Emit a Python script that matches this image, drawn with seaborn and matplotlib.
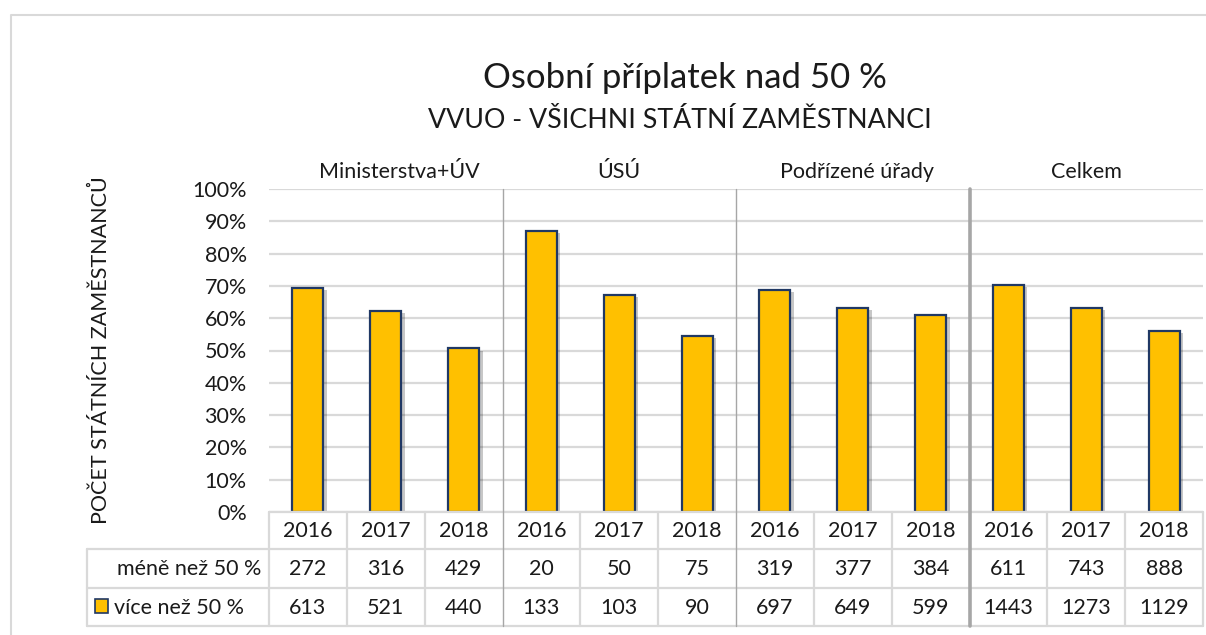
import numpy as np
import pandas as pd
import matplotlib
matplotlib.use('Agg')
import matplotlib.pyplot as plt
import seaborn as sns
from matplotlib import patheffects as pe, transforms
from matplotlib.lines import Line2D
from matplotlib.patches import Rectangle
from matplotlib.ticker import PercentFormatter

groups = ['Ministerstva+ÚV', 'ÚSÚ', 'Podřízené úřady', 'Celkem']
years = ['2016', '2017', '2018']
mene = [272, 316, 429, 20, 50, 75, 319, 377, 384, 611, 743, 888]
vice = [613, 521, 440, 133, 103, 90, 697, 649, 599, 1443, 1273, 1129]
row_labels = ['méně než 50 %', 'více než 50 %']

YELLOW = '#FFC000'
NAVY = '#203864'
GRID = '#d9d9d9'
TXT = '#1a1a1a'
FS = 15.5

sns.set_theme(style='white')
plt.rcParams['font.family'] = ['Lato', 'DejaVu Sans']

W, H = 1206, 635
fig = plt.figure(figsize=(W / 100, H / 100), dpi=100)

def fx(px):
    return px / W

def fy(py):
    return 1 - py / H

ax = fig.add_axes([fx(269), fy(512), fx(1203) - fx(269), fy(189) - fy(512)])

df = pd.DataFrame({'group': np.repeat(groups, len(years)), 'year': years * len(groups),
                   'mene': mene, 'vice': vice})
df['key'] = df['group'] + ' ' + df['year']
# 100 % stacked column: only the "více" share is filled
df['share'] = df['vice'] / (df['vice'] + df['mene'])

sns.barplot(data=df, x='key', y='share', color=YELLOW, edgecolor=NAVY, linewidth=1.6,
            width=0.4, saturation=1, ax=ax, zorder=3)
for bar in ax.patches:
    bar.set_path_effects([pe.SimplePatchShadow(offset=(2.5, -1.5), shadow_rgbFace='black', alpha=0.22),
                          pe.Normal()])

ax.set_xlim(-0.5, len(df) - 0.5)
ax.set_ylim(0, 1)
ax.set_yticks(np.arange(0, 1.01, 0.1))
ax.yaxis.set_major_formatter(PercentFormatter(1.0, decimals=0))
ax.tick_params(axis='y', length=0, pad=16, labelsize=FS, labelcolor=TXT)
ax.set_xticks([])
ax.set_xlabel('')
ax.set_ylabel('')
for s in ax.spines.values():
    s.set_visible(False)
ax.yaxis.grid(True, color=GRID, lw=1.6)
ax.set_axisbelow(True)

bt = transforms.blended_transform_factory(ax.transData, fig.transFigure)

# group labels (first one sits a bit right of centre, as in Excel)
label_shift = [0.18, 0, 0.05, 0]
for i, g in enumerate(groups):
    ax.text(i * 3 + 1 + label_shift[i], 1.053, g,
            transform=transforms.blended_transform_factory(ax.transData, ax.transAxes),
            ha='center', va='center', fontsize=FS, color=TXT)

# table grid
def hline(y, x0, x1):
    fig.add_artist(Line2D([fx(x0), fx(x1)], [fy(y), fy(y)], color=GRID, lw=1.6, transform=fig.transFigure))

hline(512, 269, 1203)
for y in [549, 588, 626]:
    hline(y, 87, 1203)
fig.add_artist(Line2D([fx(87), fx(87)], [fy(549), fy(626)], color=GRID, lw=1.6, transform=fig.transFigure))
for b in range(len(df) + 1):
    xb = b - 0.5
    if b in (3, 6):
        fig.add_artist(Line2D([xb, xb], [fy(189), fy(626)], color='#a6a6a6', lw=1.0, transform=bt, zorder=4))
    elif b == 9:
        fig.add_artist(Line2D([xb, xb], [fy(189), fy(626)], color='#a6a6a6', lw=2.6, transform=bt, zorder=4))
    else:
        fig.add_artist(Line2D([xb, xb], [fy(512), fy(626)], color=GRID, lw=1.6, transform=bt))

# table text
for i, r in df.iterrows():
    fig.text(i, fy(531), r['year'], transform=bt, ha='center', va='center', fontsize=FS, color=TXT)
    fig.text(i, fy(569), str(r['mene']), transform=bt, ha='center', va='center', fontsize=FS, color=TXT)
    fig.text(i, fy(608), str(r['vice']), transform=bt, ha='center', va='center', fontsize=FS, color=TXT)

fig.text(fx(261), fy(569), row_labels[0], ha='right', va='center', fontsize=FS, color=TXT)
fig.text(fx(114), fy(608), row_labels[1], ha='left', va='center', fontsize=FS, color=TXT)
fig.add_artist(Rectangle((fx(95), fy(613)), fx(13), fy(599) - fy(613), facecolor=YELLOW,
                         edgecolor=NAVY, lw=1.2, transform=fig.transFigure))

# titles
fig.text(fx(685), fy(78), 'Osobní příplatek nad 50 %', ha='center', va='center', fontsize=25, color=TXT)
fig.text(fx(680), fy(121), 'VVUO - VŠICHNI STÁTNÍ ZAMĚSTNANCI', ha='center', va='center', fontsize=19.3,
         color=TXT)
fig.text(fx(101), fy(350), 'POČET STÁTNÍCH ZAMĚSTNANCŮ', rotation=90, ha='center', va='center',
         fontsize=FS, color=TXT)

# outer chart frame
fig.add_artist(Line2D([fx(11), fx(11), fx(1206)], [0, fy(15), fy(15)], color=GRID, lw=1.5,
                      transform=fig.transFigure))

fig.savefig('out.png', dpi=100)
